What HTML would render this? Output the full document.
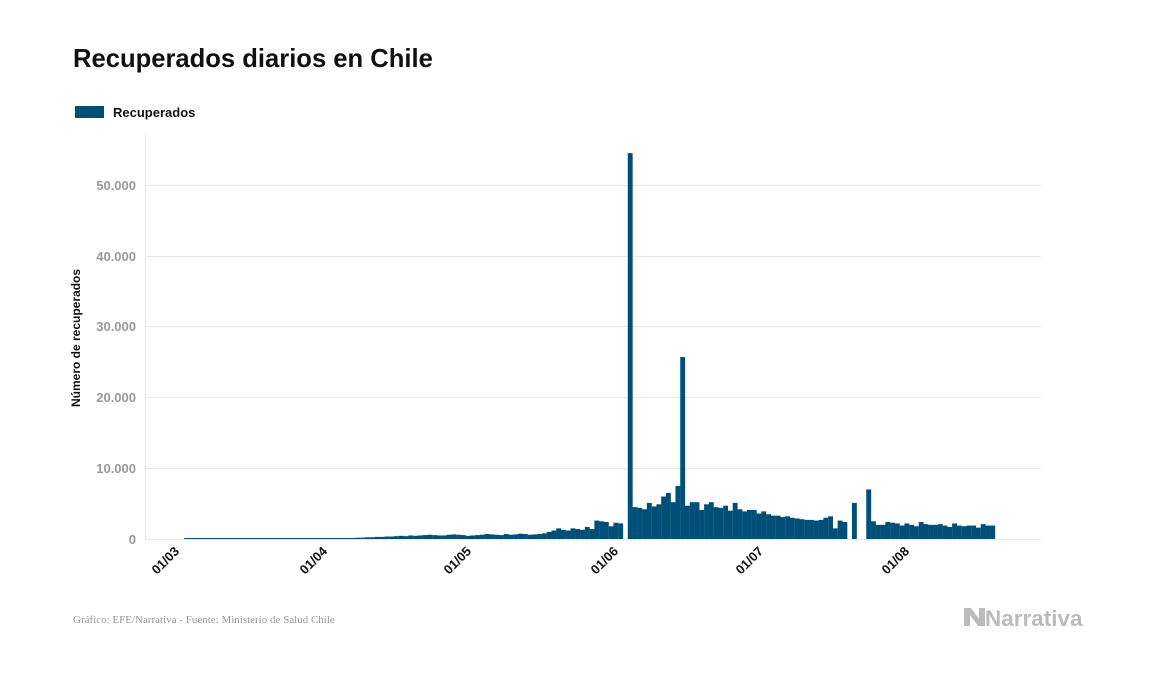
<!DOCTYPE html>
<html><head><meta charset="utf-8"><style>
body{margin:0;background:#fff;width:1157px;height:674px;overflow:hidden;font-family:"Liberation Sans",sans-serif}
</style></head><body>
<svg id="s" width="1157" height="674" xmlns="http://www.w3.org/2000/svg">
<text x="73" y="67" font-size="25.6" font-weight="bold" fill="#111">Recuperados diarios en Chile</text>
<rect x="75" y="106" width="29" height="12" fill="#004f78"/>
<text x="113" y="117" font-size="13" font-weight="bold" fill="#111">Recuperados</text>
<g stroke="#e8e8e8" stroke-width="1">
<line x1="145" x2="1041" y1="185.5" y2="185.5"/><line x1="145" x2="1041" y1="256.5" y2="256.5"/>
<line x1="145" x2="1041" y1="326.5" y2="326.5"/><line x1="145" x2="1041" y1="397.5" y2="397.5"/>
<line x1="145" x2="1041" y1="468.5" y2="468.5"/><line x1="145" x2="1041" y1="539.5" y2="539.5"/>
<line x1="145.5" x2="145.5" y1="135" y2="539"/>
</g>
<g font-size="13" font-weight="bold" fill="#999" text-anchor="end">
<text x="136" y="190">50.000</text><text x="136" y="261">40.000</text><text x="136" y="331">30.000</text>
<text x="136" y="402">20.000</text><text x="136" y="473">10.000</text><text x="136" y="544">0</text>
</g>
<text transform="translate(80,338) rotate(-90)" font-size="12" font-weight="bold" fill="#111" text-anchor="middle">Número de recuperados</text>
<g id="bars" fill="#004f78"></g>
<g font-size="13" font-weight="bold" fill="#111" text-anchor="end">
<text transform="translate(180,552) rotate(-45)">01/03</text>
<text transform="translate(328,552) rotate(-45)">01/04</text>
<text transform="translate(472,552) rotate(-45)">01/05</text>
<text transform="translate(619,552) rotate(-45)">01/06</text>
<text transform="translate(764,552) rotate(-45)">01/07</text>
<text transform="translate(910,552) rotate(-45)">01/08</text>
</g>
<text x="73" y="623" font-size="11" fill="#999" font-family="Liberation Serif,serif">Gráfico: EFE/Narrativa - Fuente: Ministerio de Salud Chile</text>
<path d="M964 608 l7 0 l8 11 l0 -11 l6 0 l0 18 l-7 0 l-8 -11 l0 11 l-6 0z" fill="#bbb"/>
<text x="985" y="626" font-size="22.5" font-weight="bold" fill="#bbb">Narrativa</text>
</svg>
<script>
var v=[];
for(var i=0;i<31;i++)v.push(50);
var apr=[100,80,120,150,150,180,200,250,250,300,300,350,350,400,450,400,500,450,500,550,600,550,500,500,600,650,600,550,450,500];
var may=[550,600,700,650,600,550,700,600,650,750,700,600,650,700,800,1000,1200,1500,1300,1200,1500,1400,1300,1700,1400,2600,2500,2400,1800,2300,2200];
var jun=[0,54500,4500,4400,4200,5100,4600,4900,6000,6500,5200,7500,25700,4700,5200,5200,4100,4900,5200,4500,4400,4700,4000,5100,4200,3900,4100,4100,3600,3900];
var jul=[3500,3300,3300,3100,3200,3000,2900,2800,2700,2700,2600,2700,3000,3200,1500,2600,2400,0,5100,0,0,7000,2500,2000,2000,2400,2300,2200,1900,2200,2000,1800,2400,2100,2000,2000,2100,1900];
var aug=[1700,2200,1900,1800,1900,1900,1600,2100,1900,1900];
v=v.concat(apr,may,jun,jul,aug);
var x0=618-4.77*92+5, g=document.getElementById('bars'),h='';
for(var i=0;i<v.length;i++){var d=i;var x=x0+d*4.77;var hh=v[i]*0.00708;if(hh<=0)continue;if(hh<1)hh=1;
h+='<rect x="'+x.toFixed(2)+'" y="'+(539-hh).toFixed(2)+'" width="4.9" height="'+hh.toFixed(2)+'"/>';}
g.innerHTML=h;
</script>
</body></html>
